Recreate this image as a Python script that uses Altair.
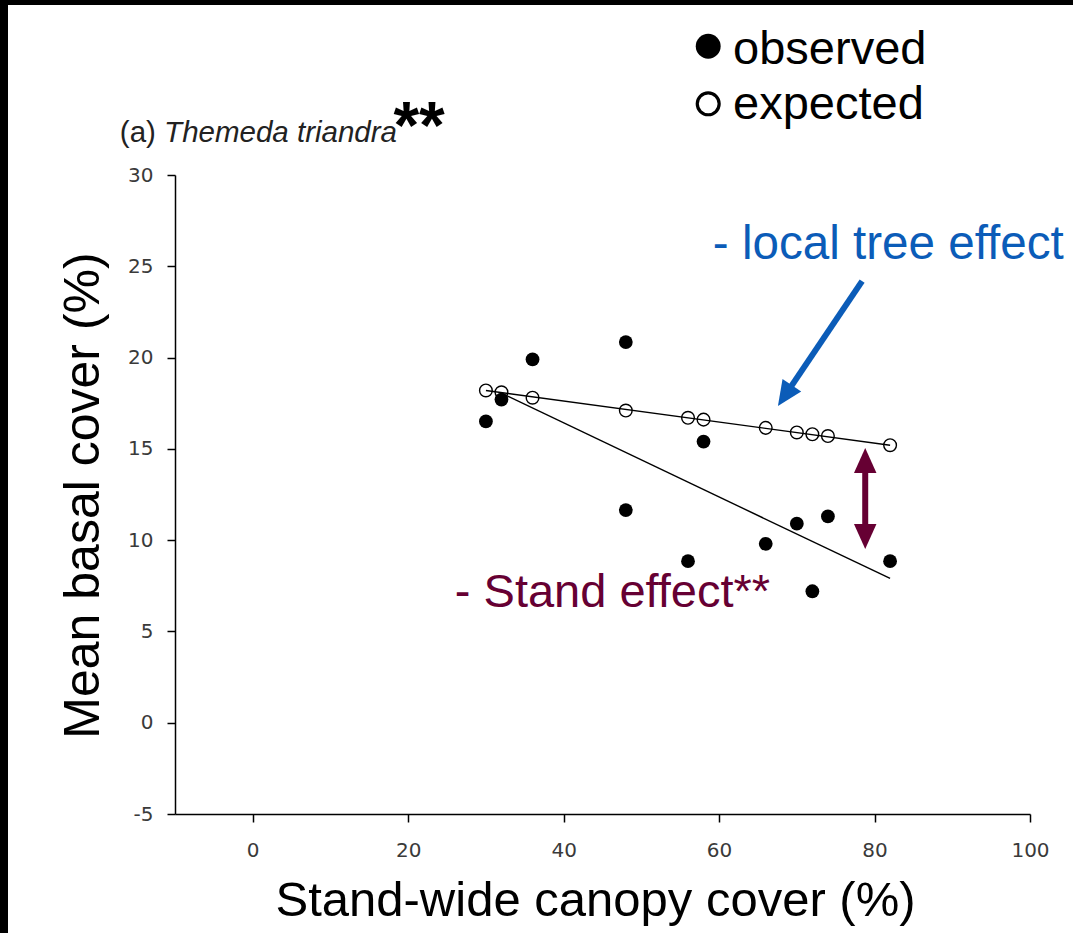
import altair as alt
import pandas as pd

# ---- data ----
obs_x = [30, 32, 36, 48, 48, 56, 58, 66, 70, 72, 74, 82]
obs_y = [16.5, 17.7, 19.9, 20.85, 11.65, 8.85, 15.4, 9.8, 10.9, 7.2, 11.3, 8.85]

exp_x = [30, 32, 36, 48, 56, 58, 66, 70, 72, 74, 82]
exp_y = [18.2, 18.1, 17.8, 17.1, 16.7, 16.6, 16.15, 15.9, 15.8, 15.7, 15.2]

obs_fit_x = [32, 82]
obs_fit_y = [18.05, 7.9]
exp_fit_x = [30, 82]
exp_fit_y = [18.2, 15.2]

x_ticks = [0, 20, 40, 60, 80, 100]
y_ticks = [-5, 0, 5, 10, 15, 20, 25, 30]

FONT = "Liberation Sans"
TICKFONT = "DejaVu Sans"
BLUE = "#0B5CB8"
MAROON = "#660033"

sx = alt.Scale(domain=[-10, 100], nice=False, zero=False)
sy = alt.Scale(domain=[-5, 30], nice=False, zero=False)

ax_x = alt.Axis(values=x_ticks, grid=False, tickSize=8, tickWidth=1.5, tickColor="black",
                domainColor="black", domainWidth=1.5, labelFont=TICKFONT, labelFontSize=20,
                labelColor="#3a3a3a", labelPadding=18, labelOverlap=False, labelFlush=False,
                labelExpr="datum.value + ''",
                titleFont=FONT, titleFontSize=49, titleFontWeight="normal", titleColor="black",
                titleBaseline="alphabetic", titleY=101, titleX=420)
ax_y = alt.Axis(values=y_ticks, grid=False, tickSize=8, tickWidth=1.5, tickColor="black",
                domainColor="black", domainWidth=1.5, labelFont=TICKFONT, labelFontSize=20,
                labelColor="#3a3a3a", labelPadding=14, labelOverlap=False, labelFlush=False,
                labelExpr="datum.value + ''",
                titleFont=FONT, titleFontSize=50, titleFontWeight="normal", titleColor="black",
                titleBaseline="alphabetic", titleX=-77, titleY=320, titleAngle=-90)

XT = "Stand-wide canopy cover (%)"
YT = "Mean basal cover (%)"


def X():
    return alt.X("x:Q", scale=sx, axis=ax_x, title=XT)


def Y():
    return alt.Y("y:Q", scale=sy, axis=ax_y, title=YT)


obs = pd.DataFrame({"x": obs_x, "y": obs_y})
exp = pd.DataFrame({"x": exp_x, "y": exp_y})
ofit = pd.DataFrame({"x": obs_fit_x, "y": obs_fit_y})
efit = pd.DataFrame({"x": exp_fit_x, "y": exp_fit_y})

l_ofit = alt.Chart(ofit).mark_line(color="black", strokeWidth=1.4).encode(x=X(), y=Y())
l_efit = alt.Chart(efit).mark_line(color="black", strokeWidth=1.4).encode(x=X(), y=Y())
p_obs = alt.Chart(obs).mark_point(shape="circle", filled=True, color="black", size=190, opacity=1).encode(x=X(), y=Y())
p_exp = alt.Chart(exp).mark_point(shape="circle", filled=False, color="black", strokeWidth=1.4, size=160, opacity=1).encode(x=X(), y=Y())

# ---- legend (manual) ----
leg_f = alt.Chart(pd.DataFrame({"x": [58.6], "y": [37.05]})).mark_point(
    shape="circle", filled=True, color="black", size=620, opacity=1).encode(x=X(), y=Y())
leg_o = alt.Chart(pd.DataFrame({"x": [58.6], "y": [33.9]})).mark_point(
    shape="circle", filled=False, color="black", strokeWidth=3.2, size=480, opacity=1).encode(x=X(), y=Y())
leg_t = alt.Chart(pd.DataFrame({"x": [61.8, 61.8], "y": [36.1, 33.06], "t": ["observed", "expected"]})).mark_text(
    font=FONT, fontSize=47, align="left", baseline="alphabetic", color="black").encode(x=X(), y=Y(), text="t:N")

# ---- panel title ----
t_a = alt.Chart(pd.DataFrame({"x": [-17.1], "y": [31.8], "t": ["(a) "]})).mark_text(
    font=FONT, fontSize=29.5, align="left", baseline="alphabetic", color="#222222").encode(x=X(), y=Y(), text="t:N")
t_sp = alt.Chart(pd.DataFrame({"x": [-11.4], "y": [31.8], "t": ["Themeda triandra"]})).mark_text(
    font=FONT, fontSize=29.5, fontStyle="italic", align="left", baseline="alphabetic", color="#222222").encode(x=X(), y=Y(), text="t:N")
t_star = alt.Chart(pd.DataFrame({"x": [18.1], "y": [31.5], "t": ["**"]})).mark_text(
    font=FONT, fontSize=66, fontWeight="bold", align="left", baseline="alphabetic", color="black").encode(x=X(), y=Y(), text="t:N")

# ---- annotations ----
a_local = alt.Chart(pd.DataFrame({"x": [59.2], "y": [25.4], "t": ["- local tree effect"]})).mark_text(
    font=FONT, fontSize=47.6, align="left", baseline="alphabetic", color=BLUE).encode(x=X(), y=Y(), text="t:N")
a_stand = alt.Chart(pd.DataFrame({"x": [26.0], "y": [6.35], "t": ["- Stand effect**"]})).mark_text(
    font=FONT, fontSize=47, align="left", baseline="alphabetic", color=MAROON).encode(x=X(), y=Y(), text="t:N")

HEAD = "M0,0L-0.45,1L0.45,1Z"

b_shaft = alt.Chart(pd.DataFrame({"x": [78.4, 68.6], "y": [24.19, 18.0]})).mark_line(
    color=BLUE, strokeWidth=6).encode(x=X(), y=Y())
b_head = alt.Chart(pd.DataFrame({"x": [67.57], "y": [17.35]})).mark_point(
    shape=HEAD, filled=True, color=BLUE, size=2500, angle=213.9, opacity=1, strokeWidth=0).encode(x=X(), y=Y())

m_shaft = alt.Chart(pd.DataFrame({"x": [78.8, 78.8], "y": [14.2, 10.4]})).mark_line(
    color=MAROON, strokeWidth=6).encode(x=X(), y=Y())
m_head = alt.Chart(pd.DataFrame({"x": [78.8, 78.8], "y": [15.05, 9.52], "a": [0, 180]})).mark_point(
    shape=HEAD, filled=True, color=MAROON, size=2500, opacity=1, strokeWidth=0).encode(
    x=X(), y=Y(), angle=alt.Angle("a:Q", scale=None))

# ---- black frame edges of the reference picture (decoration) ----
frame_left = alt.Chart(pd.DataFrame({"x": [0]})).mark_rect(color="black").encode(
    x=alt.value(-175), x2=alt.value(-167), y=alt.value(-175), y2=alt.value(758))
frame_top = alt.Chart(pd.DataFrame({"x": [0]})).mark_rect(color="black").encode(
    x=alt.value(-175), x2=alt.value(898), y=alt.value(-175), y2=alt.value(-170))

chart = alt.layer(
    l_ofit, l_efit, p_exp, p_obs, leg_f, leg_o, leg_t, t_a, t_sp, t_star,
    a_local, a_stand, b_shaft, b_head, m_shaft, m_head, frame_left, frame_top
).properties(
    width=855, height=639,
    autosize=alt.AutoSizeParams(type="none"),
    padding={"left": 175, "top": 175, "right": 43, "bottom": 119},
    background="white",
).configure_view(stroke=None)

chart.save("out.html", embed_options={"renderer": "svg", "actions": False})
